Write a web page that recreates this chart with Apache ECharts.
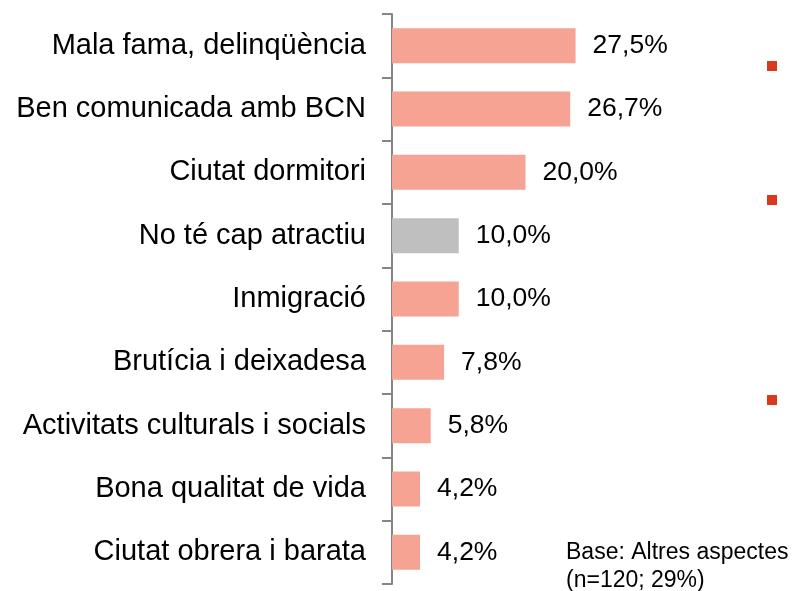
<!DOCTYPE html>
<html>
<head>
<meta charset="utf-8">
<script src="https://cdn.jsdelivr.net/npm/echarts@6/dist/echarts.min.js"></script>
<style>
  html, body { margin: 0; padding: 0; background: #fff; }
  #chart { width: 796px; height: 591px; }
</style>
</head>
<body>
<div id="chart"></div>
<script>
const categories = [
  'Mala fama, delinqüència',
  'Ben comunicada amb BCN',
  'Ciutat dormitori',
  'No té cap atractiu',
  'Inmigració',
  'Brutícia i deixadesa',
  'Activitats culturals i socials',
  'Bona qualitat de vida',
  'Ciutat obrera i barata'
];
const values = [27.5, 26.7, 20.0, 10.0, 10.0, 7.8, 5.8, 4.2, 4.2];
const greyIndex = 3; // "No té cap atractiu" in grey

const SALMON = '#F6A394';
const GREY = '#BFBFBF';

const chart = echarts.init(document.getElementById('chart'));

chart.setOption({
  animation: false,
  grid: { left: 392, right: 137, top: 14, bottom: 7, containLabel: false },
  xAxis: {
    type: 'value',
    min: 0,
    max: 40,
    show: false
  },
  yAxis: {
    type: 'category',
    inverse: true,
    data: categories,
    axisLine: { show: true, lineStyle: { color: '#868686', width: 2 } },
    axisTick: { show: true, length: 10, lineStyle: { color: '#868686', width: 2 } },
    axisLabel: {
      margin: 26,
      color: '#000',
      fontFamily: 'Liberation Sans, Arial, sans-serif',
      fontSize: 29
    }
  },
  series: [{
    type: 'bar',
    barWidth: 35,
    data: values.map((v, i) => ({
      value: v,
      itemStyle: { color: i === greyIndex ? GREY : SALMON }
    })),
    label: {
      show: true,
      position: 'right',
      distance: 17,
      color: '#000',
      fontFamily: 'Liberation Sans, Arial, sans-serif',
      fontSize: 26.5,
      formatter: p => p.value.toFixed(1).replace('.', ',') + '%'
    }
  }],
  graphic: [
    { type: 'rect', left: 767, top: 61, shape: { width: 10, height: 10 }, style: { fill: '#D93A1E' } },
    { type: 'rect', left: 767, top: 195, shape: { width: 10, height: 10 }, style: { fill: '#D93A1E' } },
    { type: 'rect', left: 767, top: 395, shape: { width: 10, height: 10 }, style: { fill: '#D93A1E' } },
    {
      type: 'text', left: 566, top: 539,
      style: {
        text: 'Base: Altres aspectes\n(n=120; 29%)',
        fill: '#000',
        font: '23px "Liberation Sans", Arial, sans-serif',
        lineHeight: 28
      }
    }
  ]
});
</script>
</body>
</html>
